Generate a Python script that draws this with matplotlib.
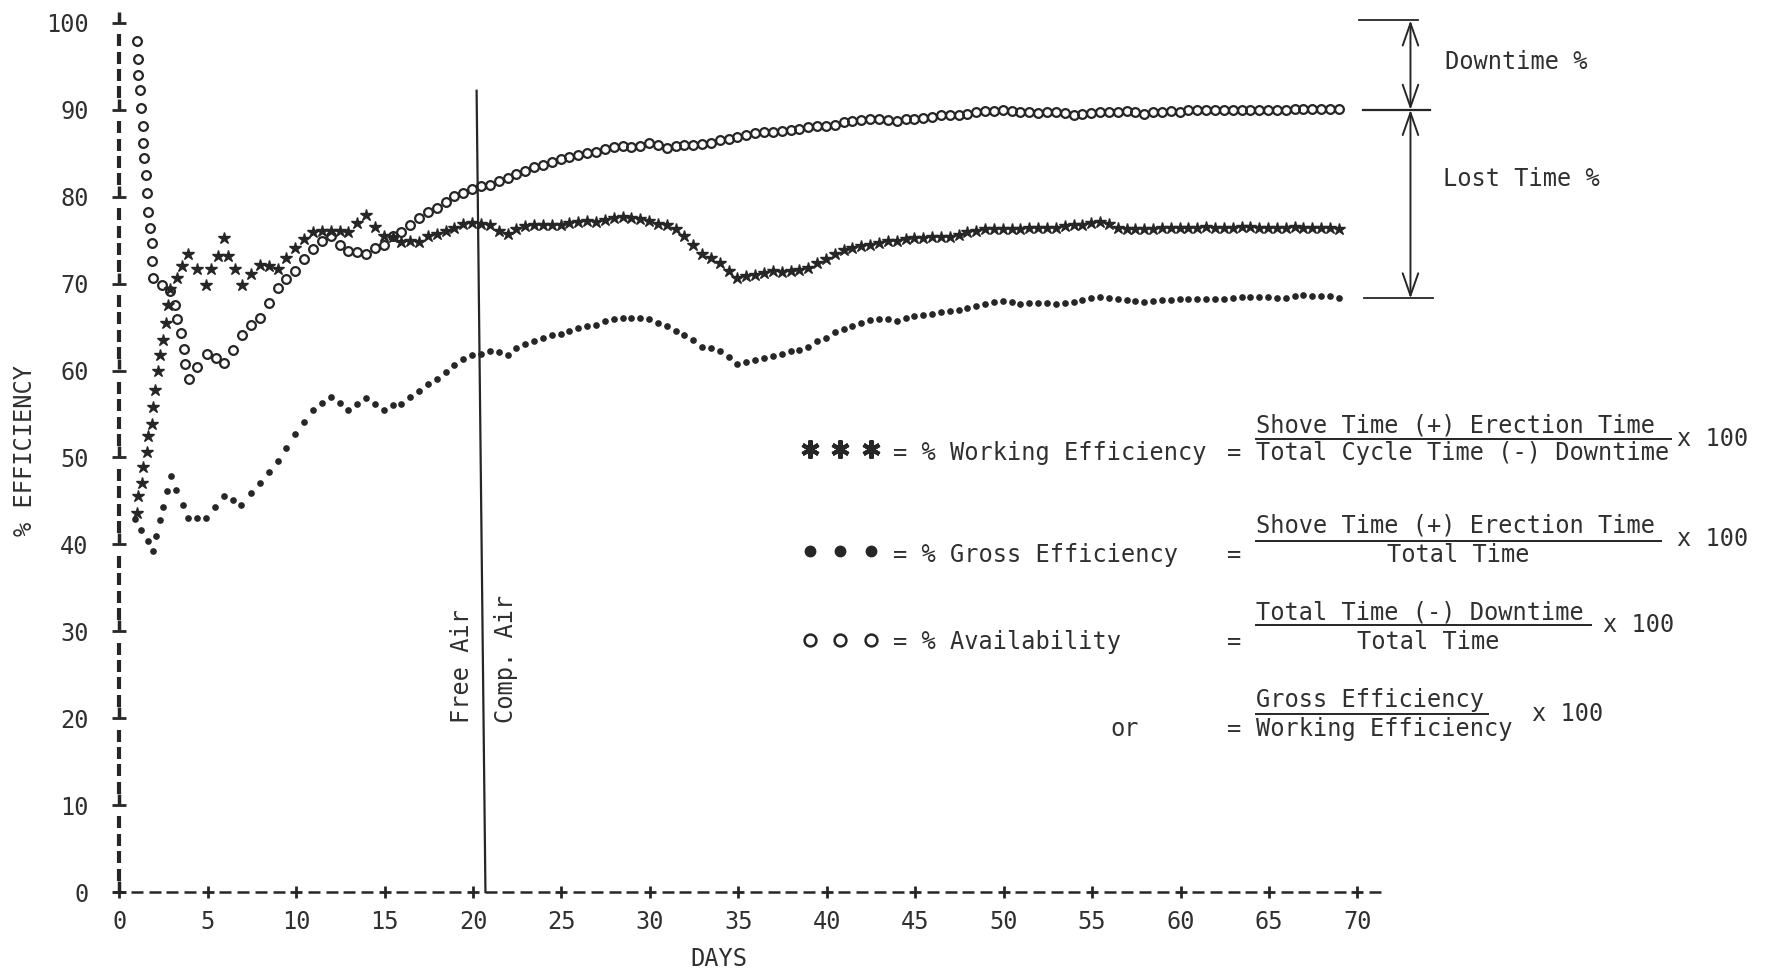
import numpy as np
import matplotlib
matplotlib.use("Agg")
import matplotlib.pyplot as plt
from matplotlib.lines import Line2D

plt.rcParams['font.family'] = ['DejaVu Sans Mono', 'DejaVu Sans']

INK = '#262626'
TXT = '#303030'
FS = 17

# ---------------- data ----------------
# early readings (irregular spacing)
work_days_early = [1.02, 1.08, 1.27, 1.32, 1.58, 1.64, 1.83, 1.92, 2.02, 2.21, 2.30, 2.49, 2.62,
                   2.77, 2.87, 3.24, 3.56, 3.90, 4.41, 4.90, 5.19, 5.60, 5.92, 6.16, 6.54, 6.92]
work_pct_early = [43.6, 45.6, 47.1, 48.9, 50.6, 52.5, 53.9, 55.8, 57.8, 60.0, 61.8, 63.5, 65.5,
                  67.6, 69.4, 70.7, 72.0, 73.4, 71.7, 69.9, 71.7, 73.2, 75.2, 73.2, 71.7, 69.9]

avail_days_early = [0.98, 1.07, 1.04, 1.17, 1.23, 1.36, 1.32, 1.41, 1.51, 1.55, 1.64, 1.74, 1.87,
                    1.87, 1.92, 2.43, 2.87, 3.15, 3.24, 3.47, 3.66, 3.73, 3.92, 4.41, 4.94, 5.45,
                    5.94, 6.45, 6.94]
avail_pct_early = [97.9, 95.9, 94.0, 92.3, 90.2, 88.1, 86.2, 84.5, 82.5, 80.4, 78.3, 76.4, 74.7,
                   72.6, 70.7, 69.8, 69.2, 67.6, 65.9, 64.3, 62.5, 60.7, 59.0, 60.4, 61.9, 61.5,
                   60.9, 62.4, 64.1]

gross_days_early = [0.89, 1.21, 1.60, 1.92, 2.07, 2.30, 2.49, 2.68, 2.91, 3.21, 3.58, 3.90, 4.38,
                    4.90, 5.41, 5.92, 6.41, 6.88]
gross_pct_early = [42.9, 41.6, 40.4, 39.2, 41.0, 42.8, 44.3, 46.1, 47.9, 46.3, 44.5, 43.0, 43.0,
                   43.0, 44.3, 45.6, 45.1, 44.5]

# half-day readings from day 7.45 onward
grid_start_day = 7.45
grid_step_day = 0.5

work_pct = [71.1, 72.1, 72.0, 71.7, 73.0, 74.1, 75.1, 75.9, 76.1, 76.1,
            76.1, 75.9, 77.0, 77.9, 76.5, 75.5, 75.4, 74.8, 74.9, 74.8,
            75.5, 75.7, 76.1, 76.4, 76.9, 77.0, 76.9, 76.7, 76.1, 75.7,
            76.3, 76.6, 76.8, 76.8, 76.8, 76.8, 77.0, 77.1, 77.2, 77.1,
            77.3, 77.6, 77.7, 77.6, 77.4, 77.2, 76.9, 76.8, 76.3, 75.5,
            74.5, 73.4, 73.0, 72.4, 71.5, 70.6, 70.9, 71.0, 71.2, 71.5,
            71.4, 71.5, 71.6, 71.8, 72.4, 72.8, 73.4, 73.9, 74.1, 74.3,
            74.5, 74.7, 74.9, 74.9, 75.1, 75.2, 75.2, 75.4, 75.4, 75.4,
            75.6, 75.9, 76.1, 76.3, 76.3, 76.3, 76.3, 76.3, 76.4, 76.4,
            76.4, 76.4, 76.6, 76.8, 76.8, 77.0, 77.1, 76.9, 76.4, 76.3,
            76.3, 76.3, 76.3, 76.4, 76.4, 76.4, 76.4, 76.4, 76.5, 76.4,
            76.4, 76.4, 76.5, 76.5, 76.4, 76.4, 76.4, 76.4, 76.5, 76.4,
            76.4, 76.4, 76.4, 76.3]

avail_pct = [65.2, 66.1, 67.8, 69.5, 70.5, 71.5, 72.8, 74.0, 74.9, 75.5,
             74.5, 73.8, 73.7, 73.4, 74.1, 74.5, 75.5, 75.9, 76.8, 77.6,
             78.2, 78.7, 79.4, 80.1, 80.4, 80.9, 81.2, 81.4, 81.8, 82.2,
             82.6, 83.0, 83.4, 83.7, 84.0, 84.3, 84.6, 84.8, 85.0, 85.2,
             85.5, 85.7, 85.8, 85.7, 85.8, 86.2, 86.0, 85.6, 85.8, 86.0,
             86.0, 86.1, 86.2, 86.5, 86.7, 86.9, 87.1, 87.3, 87.4, 87.5,
             87.6, 87.7, 87.8, 88.0, 88.1, 88.1, 88.3, 88.6, 88.7, 88.8,
             88.9, 89.0, 88.8, 88.7, 88.9, 88.9, 89.1, 89.2, 89.4, 89.4,
             89.4, 89.5, 89.7, 89.9, 89.9, 90.0, 89.9, 89.8, 89.7, 89.6,
             89.7, 89.8, 89.6, 89.4, 89.5, 89.6, 89.8, 89.8, 89.7, 89.9,
             89.8, 89.5, 89.7, 89.8, 89.9, 89.8, 90.0, 90.0, 90.0, 90.0,
             90.0, 90.0, 90.0, 90.0, 90.0, 90.0, 90.0, 90.0, 90.1, 90.1,
             90.1, 90.1, 90.1, 90.1]

gross_pct = [45.9, 47.1, 48.3, 49.6, 51.1, 52.7, 54.1, 55.5, 56.3, 57.0,
             56.3, 55.5, 56.1, 56.8, 56.1, 55.5, 56.0, 56.1, 57.0, 57.7,
             58.5, 59.0, 59.8, 60.6, 61.3, 61.8, 61.9, 62.3, 62.1, 61.8,
             62.6, 63.1, 63.4, 63.8, 64.1, 64.2, 64.6, 64.9, 65.1, 65.3,
             65.7, 65.9, 66.1, 66.1, 66.0, 65.9, 65.5, 65.1, 64.6, 64.1,
             63.5, 62.7, 62.6, 62.2, 61.6, 60.8, 61.0, 61.2, 61.4, 61.7,
             61.9, 62.2, 62.4, 62.7, 63.4, 63.8, 64.4, 64.8, 65.1, 65.5,
             65.8, 65.9, 65.9, 65.7, 66.1, 66.3, 66.4, 66.5, 66.7, 66.9,
             67.0, 67.2, 67.4, 67.7, 67.9, 68.0, 67.9, 67.7, 67.8, 67.8,
             67.8, 67.7, 67.8, 67.9, 68.1, 68.3, 68.5, 68.4, 68.2, 68.1,
             68.0, 67.9, 68.0, 68.1, 68.1, 68.2, 68.2, 68.2, 68.2, 68.2,
             68.2, 68.3, 68.5, 68.5, 68.5, 68.5, 68.4, 68.4, 68.6, 68.7,
             68.6, 68.6, 68.6, 68.4]

x_ticks = [0, 5, 10, 15, 20, 25, 30, 35, 40, 45, 50, 55, 60, 65, 70]
y_ticks = [0, 10, 20, 30, 40, 50, 60, 70, 80, 90, 100]
air_switch_days = [20.2, 20.7]   # top / bottom of the "Free Air | Comp. Air" divider


def grid_days(vals):
    return grid_start_day + grid_step_day * np.arange(len(vals))


work_x = np.concatenate([work_days_early, grid_days(work_pct)])
work_y = np.concatenate([work_pct_early, work_pct])
avail_x = np.concatenate([avail_days_early, grid_days(avail_pct)])
avail_y = np.concatenate([avail_pct_early, avail_pct])
gross_x = np.concatenate([gross_days_early, grid_days(gross_pct)])
gross_y = np.concatenate([gross_pct_early, gross_pct])

# ---------------- figure ----------------
fig = plt.figure(figsize=(17.73, 9.77), dpi=100)
ax = fig.add_axes([0.0673, 0.0870, 0.6983, 0.8895])
ax.set_xlim(0, 70)
ax.set_ylim(0, 100)
for s in ax.spines.values():
    s.set_visible(False)
ax.set_xticks(x_ticks)
ax.set_yticks(y_ticks)
ax.tick_params(length=0, labelsize=FS, colors=TXT)
ax.tick_params(axis='y', pad=22)
ax.tick_params(axis='x', pad=13)

# dashed typewriter-style axes
ydash = np.arange(2, 100, 2)
ydash = ydash[ydash % 10 != 0]
ax.plot(np.zeros_like(ydash), ydash, ls='none', marker='|', ms=8, mew=3, color=INK, clip_on=False)
ax.plot(np.zeros(len(y_ticks)), np.array(y_ticks) + 0.7, ls='none', marker='|', ms=7, mew=2.5,
        color=INK, clip_on=False)
ax.plot(np.zeros(len(y_ticks)), y_ticks, ls='none', marker='_', ms=10, mew=2, color=INK, clip_on=False)

xdash = np.arange(1, 72, 1)
xdash = xdash[xdash % 5 != 0]
ax.plot(xdash, np.zeros_like(xdash), ls='none', marker='_', ms=8, mew=1.8, color=INK, clip_on=False)
ax.plot(x_ticks, np.zeros(len(x_ticks)), ls='none', marker='+', ms=9, mew=2, color=INK, clip_on=False)

# divider
ax.plot(air_switch_days, [92.2, 0], color=INK, lw=1.6, clip_on=False)
ax.text(19.35, 19.5, 'Free Air', rotation=90, ha='center', va='bottom', fontsize=FS, color=TXT)
ax.text(21.85, 19.5, 'Comp. Air', rotation=90, ha='center', va='bottom', fontsize=FS, color=TXT)

# data series
ax.plot(gross_x, gross_y, ls='none', marker='o', ms=3.8, color=INK, mec=INK, clip_on=False)
ax.plot(avail_x, avail_y, ls='none', marker='o', ms=6.3, mfc='none', mec=INK, mew=1.6, clip_on=False)
ax.plot(work_x, work_y, ls='none', marker='*', ms=9, color=INK, mec=INK, clip_on=False)

# bracket on the right
top_pct = 100.3
mid_pct = avail_y[-1] - 0.1
low_pct = gross_y[-1] - 0.1
ax.plot([70.1, 73.4], [top_pct, top_pct], color=INK, lw=1.3, clip_on=False)
ax.plot([70.3, 74.1], [mid_pct, mid_pct], color=INK, lw=1.6, clip_on=False)
ax.plot([70.4, 74.3], [low_pct, low_pct], color=INK, lw=1.3, clip_on=False)
arr = dict(arrowstyle='<->,head_length=0.8,head_width=0.28', lw=1.4, color=INK,
           shrinkA=0, shrinkB=0, mutation_scale=20)
ax.annotate('', xy=(73.0, top_pct), xytext=(73.0, mid_pct), arrowprops=arr, annotation_clip=False)
ax.annotate('', xy=(73.0, mid_pct), xytext=(73.0, low_pct), arrowprops=arr, annotation_clip=False)


# ---------------- text annotations (reference-pixel layout helper) ----------------
def P(x, y):
    return x / 1568.0, 1.0 - y / 864.0


def T(x, y, s, ha='left', **kw):
    fx, fy = P(x, y)
    fig.text(fx, fy, s, ha=ha, va='center', fontsize=FS, color=TXT, **kw)


def HL(x0, x1, y):
    a, b = P(x0, y)
    c, _ = P(x1, y)
    fig.add_artist(Line2D([a, c], [b, b], color=INK, lw=1.4, transform=fig.transFigure))


def MK(y, **kw):
    xs, ys = zip(*[P(x, y) for x in (716, 743, 770)])
    fig.add_artist(Line2D(xs, ys, ls='none', transform=fig.transFigure, **kw))


T(1278, 55, 'Downtime %')
T(1276, 158, 'Lost Time %')

# row 1
MK(397, marker=(6, 2, 0), ms=13, mew=3, color=INK)
T(790, 401, '= % Working Efficiency')
T(1085, 401, '=')
T(1111, 376, 'Shove Time (+) Erection Time')
HL(1111, 1478, 388)
T(1111, 401, 'Total Cycle Time (-) Downtime')
T(1483, 388, 'x 100')

# row 2
MK(487, marker='o', ms=7.5, color=INK)
T(790, 491, '= % Gross Efficiency')
T(1085, 491, '=')
T(1111, 465, 'Shove Time (+) Erection Time')
HL(1111, 1469, 478)
T(1290, 491, 'Total Time', ha='center')
T(1483, 477, 'x 100')

# row 3
MK(566, marker='o', ms=8.5, mfc='none', mec=INK, mew=1.8)
T(790, 568, '= % Availability')
T(1085, 568, '=')
T(1111, 542, 'Total Time (-) Downtime')
HL(1111, 1407, 553)
T(1263, 568, 'Total Time', ha='center')
T(1418, 553, 'x 100')

# row 4
T(995, 645, 'or', ha='center')
T(1085, 645, '=')
T(1111, 619, 'Gross Efficiency')
HL(1111, 1316, 631)
T(1111, 645, 'Working Efficiency')
T(1355, 631, 'x 100')

# axis titles
T(22, 398, '% EFFICIENCY', ha='center', rotation=90)
T(636, 848, 'DAYS', ha='center')

fig.savefig('out.png', dpi=100, facecolor='white')
